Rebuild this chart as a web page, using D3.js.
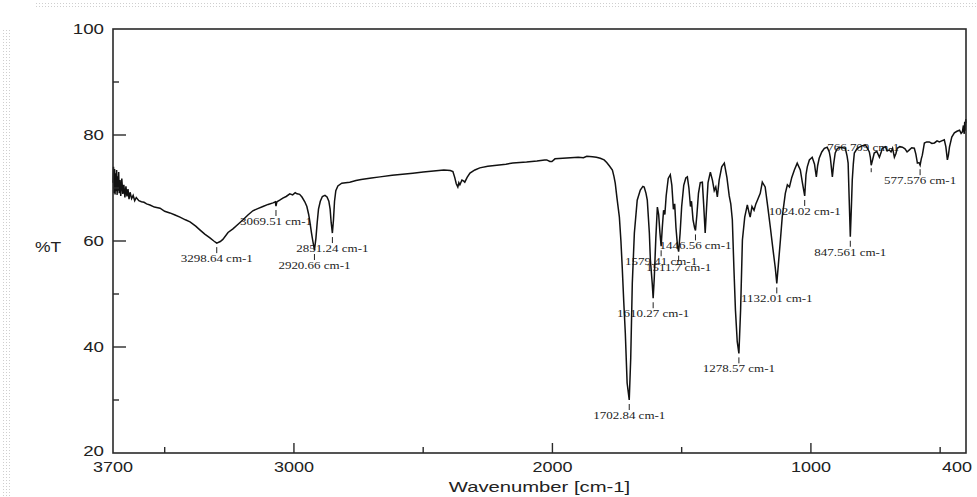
<!DOCTYPE html>
<html>
<head>
<meta charset="utf-8">
<script src="https://cdn.jsdelivr.net/npm/d3@7"></script>
<style>
  html, body { margin: 0; padding: 0; background: #ffffff; }
  svg { display: block; }
</style>
</head>
<body>
<svg id="chart" width="977" height="497"></svg>
<script>
// ---------------- DATA ----------------
const wavenumbers = [
  3700,3698,3696,3694,3692,3690,3688,3686,3684,3682,3680,3678,3676,3673,3670,3666,3662,3658,3654,3650,3646,3642,3638,3634,
  3628,3622,3616,3610,3600,3590,3580,3570,3557,3540,3518,3500,3480,3460,3441,3420,3402,3380,3364,3345,
  3325,3310,3298.64,3285,3275,3255,3236,3215,3197,3178,3159,3140,3120,3100,3081,3072,3069.51,3066,3055,3043,
  3030,3016,3005,2995,2988,2978,2969,2958,2950,2943,2938,2932,2927,2920.66,2915,2910,2905,2898,2890,2880,
  2872,2865,2860,2856,2851.24,2847,2843,2838,2830,2815,2800,2784,2760,2740,2700,2667,2620,2580,2540,2500,
  2460,2420,2395,2385,2378,2372,2366,2362,2358,2350,2343,2339,2330,2319,2300,2281,2250,2215,2180,2153,
  2100,2060,2030,2022,2010,2002,1990,1960,1930,1900,1880,1867,1845,1830,1815,1800,1790,1780,1768,1762,
  1757,1750,1741,1735,1730,1724,1718,1711,1702.84,1697,1691,1683,1672,1660,1650,1645,1638,1633,1625,1621,
  1614,1610.27,1606,1600,1594,1589,1584,1579.41,1575,1570,1565,1560,1552,1544,1538,1532,1527,1522,1516,1511.7,
  1506,1500,1492,1484,1478,1472,1466,1462,1456,1450,1446.56,1441,1435,1428,1420,1415,1409,1404,1398,1389,
  1381,1374,1368,1362,1355,1345,1335,1325,1316,1310,1304,1298,1292,1285,1278.57,1272,1265,1256,1246,1240,
  1235,1228,1220,1213,1207,1196,1188,1177,1167,1157,1147,1138,1132.01,1126,1118,1111,1099,1091,1083,1074,
  1064,1053,1041,1033,1024.02,1019,1014,1006,995,986,983,979,974,968,958,948,937,929,925,917,
  912,906,898,890,878,867,860,856,852,847.561,843,840,836,832,822,813,800,789,780,774,
  770,766.709,762,755,745,735,728,724,712,705,697,690,684,677,671,666,656,646,636,628,
  619,610,600,594,588,582,577.576,573,569,564,561,552,542,532,522,512,503,494,484,478,
  472,468,464,455,445,435,425,419,414,410,407,405,403,401,400
];
const transmittance = [
  71.0,74.0,69.0,73.6,68.8,72.8,69.4,73.4,68.7,72.2,69.5,73.0,69.0,71.5,68.5,71.8,68.9,70.6,68.2,70.3,68.4,69.8,67.9,69.2,
  68.0,68.6,67.6,68.2,67.6,67.4,67.3,67.0,66.8,66.4,66.2,65.6,65.3,64.9,64.5,64.0,63.6,62.8,62.1,61.3,
  60.6,60.0,59.6,59.9,60.3,61.6,62.3,63.2,64.0,64.9,65.7,66.1,66.5,66.9,67.2,67.4,66.6,67.4,67.7,68.1,
  68.4,68.9,68.7,69.1,68.9,68.8,68.3,67.4,66.5,65.0,63.5,61.5,60.0,58.3,60.5,63.5,66.0,67.5,68.4,68.6,
  68.3,67.5,66.0,63.5,61.5,64.0,67.5,69.5,70.4,70.9,71.0,71.1,71.4,71.6,71.9,72.1,72.4,72.6,72.8,73.0,
  73.2,73.4,73.3,73.1,72.0,70.8,70.2,71.0,70.6,71.5,71.3,71.1,72.0,72.8,73.4,73.8,74.1,74.3,74.5,74.7,
  74.9,75.1,75.3,75.3,75.0,75.0,75.5,75.6,75.7,75.8,75.7,76.0,75.9,75.8,75.6,75.3,74.8,74.2,73.4,72.2,
  70.9,68.0,64.5,60.0,55.1,48.5,42.6,33.2,30.0,38.0,52.0,61.5,67.7,69.6,70.3,70.2,69.0,67.7,61.5,56.4,
  52.1,49.2,53.0,60.5,66.4,65.0,61.5,59.0,62.5,65.8,65.0,68.5,71.8,72.5,70.5,66.0,67.0,62.5,59.0,58.0,
  61.5,66.5,70.5,71.9,72.1,70.0,66.5,67.5,64.0,62.5,62.0,65.0,69.0,71.0,71.1,67.0,61.5,66.0,71.0,73.0,
  71.5,69.5,70.2,68.3,71.5,74.0,74.7,72.0,68.5,67.0,64.0,55.0,47.0,41.0,38.8,47.0,60.2,64.5,66.8,65.5,
  64.5,66.5,65.8,67.0,67.7,69.0,71.1,70.2,66.5,62.6,58.5,55.0,52.0,55.5,60.2,64.5,69.0,70.6,70.2,72.0,
  73.4,74.7,73.4,71.0,68.5,72.5,74.0,75.3,75.8,74.5,73.4,72.1,74.2,75.6,76.8,77.5,77.7,76.8,75.8,72.1,
  74.5,76.6,77.4,77.7,77.6,77.5,76.0,74.7,68.0,60.8,67.0,71.5,74.5,76.6,77.4,77.7,78.0,78.1,77.4,76.8,
  75.8,74.3,75.2,76.6,76.9,75.8,76.8,77.5,77.8,77.0,77.2,76.8,77.5,75.8,76.5,77.5,77.8,77.7,77.4,76.8,
  77.2,77.6,77.5,76.4,74.7,74.8,74.3,75.5,76.2,77.6,78.5,78.7,78.7,78.4,78.5,78.9,78.7,78.9,79.1,77.8,
  75.3,76.2,77.7,79.6,80.4,80.7,80.9,80.3,80.6,81.8,80.2,82.5,80.8,83.0,82.2
];
const peakWavenumbers = [3298.64, 3069.51, 2920.66, 2851.24, 1702.84, 1610.27, 1579.41, 1511.7, 1446.56, 1278.57, 1132.01, 1024.02, 847.561, 577.576];
const peakLabels = ["3298.64 cm-1","3069.51 cm-1","2920.66 cm-1","2851.24 cm-1","1702.84 cm-1","1610.27 cm-1","1579.41 cm-1","1511.7 cm-1","1446.56 cm-1","1278.57 cm-1","1132.01 cm-1","1024.02 cm-1","847.561 cm-1","577.576 cm-1"];
const abovePeakWavenumbers = [766.709];
const abovePeakLabels = ["766.709 cm-1"];
const xMajorTicks = [3700, 3000, 2000, 1000, 400];
const xMinorTicks = [3500, 2500, 1500, 500];
const yMajorTicks = [20, 40, 60, 80, 100];
const yMinorTicks = [30, 50, 70, 90];
const xTitle = "Wavenumber [cm-1]";
const yTitle = "%T";

// ---------------- LAYOUT ----------------
const svg = d3.select("#chart");
const L = 113, R = 966, T = 29, B = 453;
const x = d3.scaleLinear().domain([3700, 400]).range([L, R]);
const y = d3.scaleLinear().domain([20, 100]).range([B, T]);
const axisColor = "#2a2a2a";

// dotted frame decoration
const defs = svg.append("defs");
const pat = defs.append("pattern").attr("id", "dots").attr("width", 3).attr("height", 3)
  .attr("patternUnits", "userSpaceOnUse");
pat.append("rect").attr("width", 1).attr("height", 1).attr("fill", "#cfcfcf");
svg.append("rect").attr("x", 34).attr("y", 3).attr("width", 943).attr("height", 6).attr("fill", "url(#dots)");
svg.append("rect").attr("x", 3).attr("y", 28).attr("width", 7).attr("height", 469).attr("fill", "url(#dots)");

function stretched(g, txt, px, py, size, family, anchor, sx) {
  return g.append("text")
    .attr("transform", `translate(${px},${py}) scale(${sx},1)`)
    .attr("font-family", family)
    .attr("font-size", size)
    .attr("text-anchor", anchor)
    .attr("dominant-baseline", "central")
    .attr("fill", "#222")
    .text(txt);
}

function tAt(w) {
  let best = 0, bd = Infinity;
  wavenumbers.forEach((v, i) => { const d = Math.abs(v - w); if (d < bd) { bd = d; best = i; } });
  return transmittance[best];
}

// peak labels (drawn under the curve)
const gLab = svg.append("g");
const labFont = "Liberation Serif, serif";
peakWavenumbers.forEach((w, i) => {
  const py = y(tAt(w)), px = x(w);
  gLab.append("line").attr("x1", px).attr("x2", px).attr("y1", py + 4).attr("y2", py + 10)
    .attr("stroke", "#222").attr("stroke-width", 1);
  stretched(gLab, peakLabels[i], px, py + 16, 10, labFont, "middle", 1.3);
});
abovePeakWavenumbers.forEach((w, i) => {
  const py = y(tAt(w)), px = x(w);
  gLab.append("line").attr("x1", px).attr("x2", px).attr("y1", py + 3).attr("y2", py + 7)
    .attr("stroke", "#222").attr("stroke-width", 1);
  stretched(gLab, abovePeakLabels[i], px - 8, py - 17, 10, labFont, "middle", 1.3);
});

// spectrum
const line = d3.line().x((d, i) => x(wavenumbers[i])).y((d, i) => y(transmittance[i]));
svg.append("path").datum(transmittance).attr("d", line)
  .attr("fill", "none").attr("stroke", "#111").attr("stroke-width", 1.5)
  .attr("stroke-linejoin", "miter");

// frame
svg.append("rect").attr("x", L).attr("y", T).attr("width", R - L).attr("height", B - T)
  .attr("fill", "none").attr("stroke", axisColor).attr("stroke-width", 1.6);

// axes ticks
const gx = svg.append("g");
const tickFont = "Liberation Sans, Arial, sans-serif";
xMajorTicks.forEach(v => {
  if (v !== 3700 && v !== 400)
    gx.append("line").attr("x1", x(v)).attr("x2", x(v)).attr("y1", B).attr("y2", B - 10)
      .attr("stroke", axisColor).attr("stroke-width", 1.4);
  const px = v === 400 ? Math.min(x(v), 957) : x(v);
  stretched(gx, String(v), px, B + 14, 15, tickFont, "middle", 1.2);
});
xMinorTicks.forEach(v => {
  gx.append("line").attr("x1", x(v)).attr("x2", x(v)).attr("y1", B).attr("y2", B - 6)
    .attr("stroke", axisColor).attr("stroke-width", 1.4);
});
const gy = svg.append("g");
yMajorTicks.forEach(v => {
  if (v !== 20 && v !== 100)
    gy.append("line").attr("x1", L).attr("x2", L + 13).attr("y1", y(v)).attr("y2", y(v))
      .attr("stroke", axisColor).attr("stroke-width", 1.4);
  stretched(gy, String(v), L - 9, y(v) + (v === 20 ? -2 : 0), 15, tickFont, "end", 1.25);
});
yMinorTicks.forEach(v => {
  gy.append("line").attr("x1", L).attr("x2", L + 6).attr("y1", y(v)).attr("y2", y(v))
    .attr("stroke", axisColor).attr("stroke-width", 1.4);
});

// titles
stretched(svg, xTitle, (L + R) / 2, 487, 15, tickFont, "middle", 1.35);
stretched(svg, yTitle, 48, y(60) + 6, 14, tickFont, "middle", 1.25);
</script>
</body>
</html>
